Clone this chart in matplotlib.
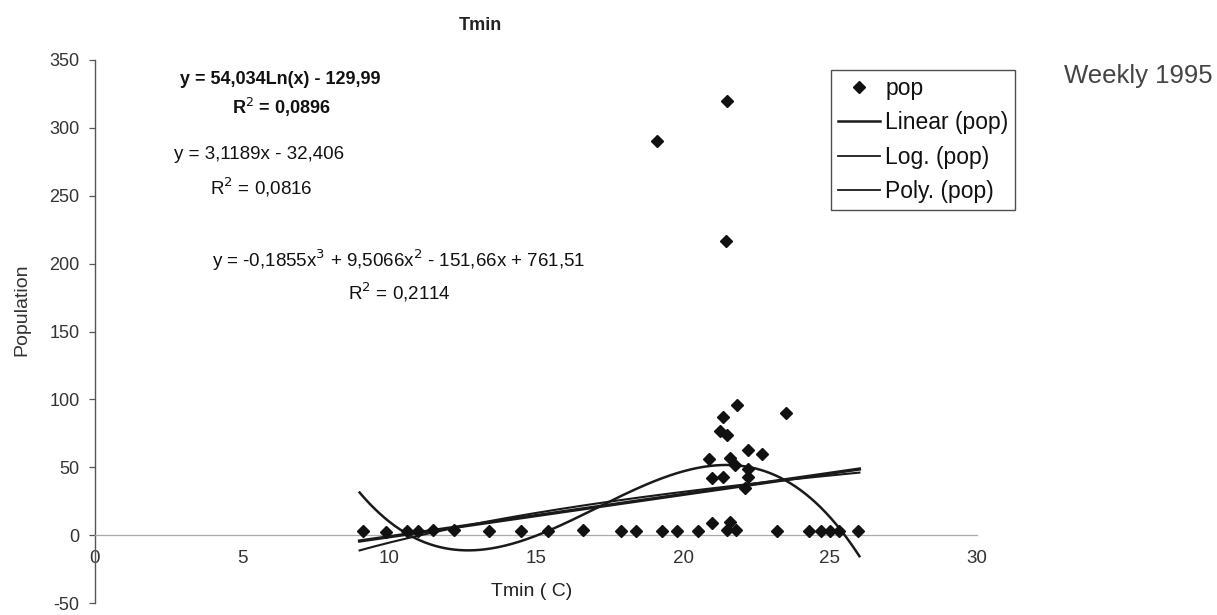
import numpy as np
import matplotlib
matplotlib.use("Agg")
import matplotlib.pyplot as plt
from matplotlib.lines import Line2D

plt.rcParams['font.family'] = ['Liberation Sans', 'DejaVu Sans']
plt.rcParams['axes.unicode_minus'] = False

# weekly Tmin (C) vs population counts
tmin = [9.1, 9.9, 10.6, 11.0, 11.5, 12.2, 13.4, 14.5, 15.4, 16.6, 17.9, 18.4,
        19.3, 19.8, 20.5, 21.0, 21.5, 21.6, 21.8, 23.2, 24.3, 24.7, 25.0, 25.3,
        25.95,
        21.84, 23.5, 21.36, 21.26, 21.5, 20.9, 21.6, 21.77, 22.2, 22.7, 21.0,
        21.36, 22.2, 22.2, 22.1,
        19.1, 21.5, 21.46]
pop = [3, 2, 3, 3, 4, 4, 3, 3, 3, 4, 3, 3,
       3, 3, 3, 9, 4, 10, 4, 3, 3, 3, 3, 3,
       3,
       96, 90, 87, 77, 74, 56, 57, 52, 63, 60, 42,
       43, 49, 43, 35,
       290, 320, 217]

# trendline coefficients (Excel output)
lin_coef = [3.1189, -32.406]
log_coef = [54.034, -129.99]
poly_coef = [-0.1855, 9.5066, -151.66, 761.51]
trend_range = [9.0, 26.0]

eq_log = ["y = 54,034Ln(x) - 129,99", "R$^2$ = 0,0896"]
eq_lin = ["y = 3,1189x - 32,406", "R$^2$ = 0,0816"]
eq_poly = ["y = -0,1855x$^3$ + 9,5066x$^2$ - 151,66x + 761,51", "R$^2$ = 0,2114"]

W, H = 1217, 615
fig = plt.figure(figsize=(W / 100, H / 100), dpi=100)


def fx(px):
    return px / W


def fy(py):
    return 1 - py / H


ax = fig.add_axes([fx(95), fy(603), (977 - 95) / W, (603 - 60) / H])
ax.set_xlim(0, 30)
ax.set_ylim(-50, 350)

xs = np.linspace(trend_range[0], trend_range[1], 300)
ink = '#1a1a1a'
ax.plot(xs, np.polyval(lin_coef, xs), color=ink, lw=2.4, zorder=3)
ax.plot(xs, log_coef[0] * np.log(xs) + log_coef[1], color=ink, lw=1.5, zorder=3)
ax.plot(xs, np.polyval(poly_coef, xs), color=ink, lw=1.8, zorder=3)
ax.plot(tmin, pop, 'D', color='#111111', markersize=6.5, linestyle='none', zorder=4)

for s in ['top', 'right']:
    ax.spines[s].set_visible(False)
ax.spines['left'].set_color('#555555')
ax.spines['left'].set_linewidth(1.0)
ax.spines['bottom'].set_position(('data', 0))
ax.spines['bottom'].set_color('#aaaaaa')
ax.spines['bottom'].set_linewidth(0.9)

ax.set_yticks(range(-50, 351, 50))
ax.set_xticks(range(0, 31, 5))
ax.tick_params(axis='y', length=4, width=0.9, color='#555555', labelsize=13,
               labelcolor='#333333', pad=7)
ax.tick_params(axis='x', length=0, labelsize=13.5, labelcolor='#333333', pad=11)

fig.text(fx(532), fy(592), "Tmin ( C)", ha='center', va='center', fontsize=14,
         color='#222222')
fig.text(fx(22), fy(310), "Population", ha='center', va='center', rotation=90,
         fontsize=14, color='#333333')
fig.text(fx(480), fy(25), "Tmin", ha='center', va='center', fontsize=13,
         fontweight='bold', color='#222222')
fig.text(fx(1138), fy(76), "Weekly 1995", ha='center', va='center', fontsize=18.5,
         color='#444444')

# trendline equations
fig.text(fx(280), fy(80), eq_log[0], ha='center', va='center', fontsize=13,
         fontweight='bold', color='#111111')
fig.text(fx(281), fy(107), eq_log[1], ha='center', va='center', fontsize=13,
         fontweight='bold', color='#111111')
fig.text(fx(259), fy(155), eq_lin[0], ha='center', va='center', fontsize=13.5,
         color='#111111')
fig.text(fx(261), fy(187), eq_lin[1], ha='center', va='center', fontsize=13.5,
         color='#111111')
fig.text(fx(399), fy(260), eq_poly[0], ha='center', va='center', fontsize=13.5,
         color='#111111')
fig.text(fx(399), fy(292), eq_poly[1], ha='center', va='center', fontsize=13.5,
         color='#111111')

handles = [
    Line2D([], [], marker='D', color='#111111', linestyle='none', markersize=6.5),
    Line2D([], [], color=ink, lw=1.8),
    Line2D([], [], color=ink, lw=1.3),
    Line2D([], [], color=ink, lw=1.3),
]
labels = ["pop", "Linear (pop)", "Log. (pop)", "Poly. (pop)"]
leg = fig.legend(handles, labels, loc='upper left',
                 bbox_to_anchor=(fx(831), fy(70)), bbox_transform=fig.transFigure,
                 fontsize=16.5, frameon=True, fancybox=False, handlelength=1.85,
                 handletextpad=0.22, labelspacing=0.5, borderpad=0.3,
                 borderaxespad=0)
leg.get_frame().set_edgecolor('#222222')
leg.get_frame().set_linewidth(1.0)
for t in leg.get_texts():
    t.set_color('#111111')

fig.savefig("out.png", dpi=100)
